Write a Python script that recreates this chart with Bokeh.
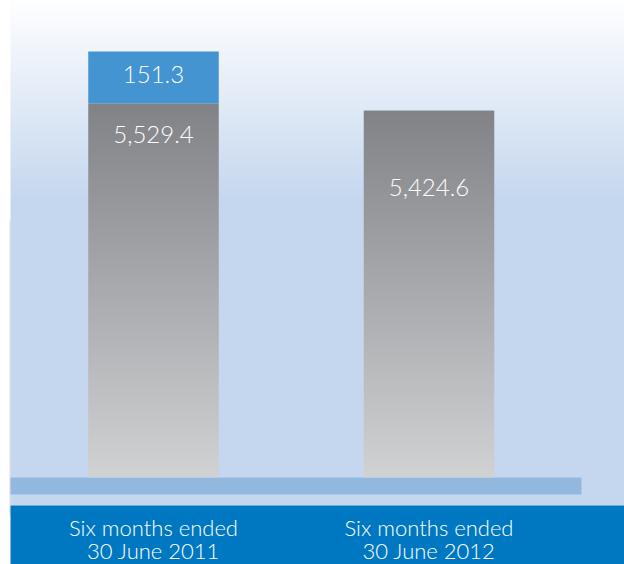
import numpy as np
from bokeh.plotting import figure
from bokeh.models import Range1d, ColumnDataSource
from bokeh.embed import file_html
from bokeh.resources import INLINE
from bokeh.core.properties import value

# ---------------- data ----------------
category_line1 = ["Six months ended", "Six months ended"]
category_line2 = ["30 June 2011", "30 June 2012"]
base_values = [5529.4, 5424.6]
base_labels = ["5,529.4", "5,424.6"]
extra_values = [151.3, 0.0]
extra_labels = ["151.3", ""]
# the original draws the extra (blue) segment much taller than its value
extra_drawn = [768.0, 0.0]

# ---------------- layout helpers (page pixels -> data) ----------------
S = 0.06765      # pixels per unit
BASE_PY = 477    # page y of zero
U = 275.5        # pixels per category step
X0 = 153         # page x of first category centre


def vy(py):
    return (BASE_PY - py) / S


def vx(px):
    return (px - X0) / U


W, H = 624, 564
p = figure(width=W, height=H, x_range=Range1d(vx(0), vx(624)),
           y_range=Range1d(vy(564), vy(0)), output_backend="svg",
           toolbar_location=None, x_axis_type=None, y_axis_type=None,
           min_border=0, outline_line_color=None,
           background_fill_color="white", border_fill_color="white")
p.grid.visible = False

# background gradient (white -> light blue)
top_py, bot_py = 0, 505
n = bot_py - top_py
bg = np.zeros((n, 1, 4), dtype=np.uint8)
white = np.array([255, 255, 255])
lb = np.array([197, 215, 239])
for k in range(n):
    py = bot_py - k - 0.5
    t = min(py / 200.0, 1.0)
    c = white * (1 - t) + lb * t
    bg[k, 0, :3] = c.astype(np.uint8)
    bg[k, 0, 3] = 255
bg_img = bg.view(np.uint32).reshape(n, 1)
p.image_rgba(image=[bg_img], x=vx(10), y=vy(bot_py),
             dw=vx(624) - vx(10), dh=vy(top_py) - vy(bot_py))

# thin left edge line
p.segment(x0=[vx(9.5)], y0=[vy(515)], x1=[vx(9.5)], y1=[vy(220)],
          line_color="#d6d6d6", line_width=1)

# base strip
p.quad(left=[vx(10)], right=[vx(581)], bottom=[vy(494)], top=[vy(477)],
       fill_color="#93b8e0", line_color=None)

# gradient bars
bar_w = 130.5 / U
N = 400
top_c = np.array([130, 131, 135])
bot_c = np.array([209, 210, 212])
for i, v in enumerate(base_values):
    g = np.zeros((N, 1, 4), dtype=np.uint8)
    for k in range(N):
        t = k / (N - 1)
        c = bot_c * (1 - t) + top_c * t
        g[k, 0, :3] = c.astype(np.uint8)
        g[k, 0, 3] = 255
    img = g.view(np.uint32).reshape(N, 1)
    p.image_rgba(image=[img], x=i - bar_w / 2, y=0, dw=bar_w, dh=v)

# blue extra segment
src = ColumnDataSource(dict(
    x=[i for i in range(len(base_values)) if extra_values[i] > 0],
    bottom=[base_values[i] for i in range(len(base_values)) if extra_values[i] > 0],
    top=[base_values[i] + extra_drawn[i] for i in range(len(base_values)) if extra_values[i] > 0],
))
p.vbar(x="x", bottom="bottom", top="top", width=bar_w, source=src,
       fill_color="#4394d0", line_color=None)

# bottom band
p.quad(left=[vx(10)], right=[vx(624)], bottom=[vy(564)], top=[vy(505)],
       fill_color="#0078c1", line_color=None)

# value labels (centred vertically on the reference text centres)
font = value("'Lato Light', Lato")
p.text(x=[0], y=[vy(74)], text=[extra_labels[0]], text_color="white",
       text_font=font, text_font_size="24px", text_align="center",
       text_baseline="middle")
p.text(x=[0, 1], y=[vy(134), vy(187)], text=base_labels, text_color="white",
       text_font=font, text_font_size="24px", text_align="center",
       text_baseline="middle")

# category labels
p.text(x=[0, 1], y=[vy(527)] * 2, text=category_line1, text_color="white",
       text_font=font, text_font_size="22px", text_align="center",
       text_baseline="middle")
p.text(x=[0, 1], y=[vy(550)] * 2, text=category_line2, text_color="white",
       text_font=font, text_font_size="22px", text_align="center",
       text_baseline="middle")

open("out.html", "w").write(file_html(p, INLINE))
